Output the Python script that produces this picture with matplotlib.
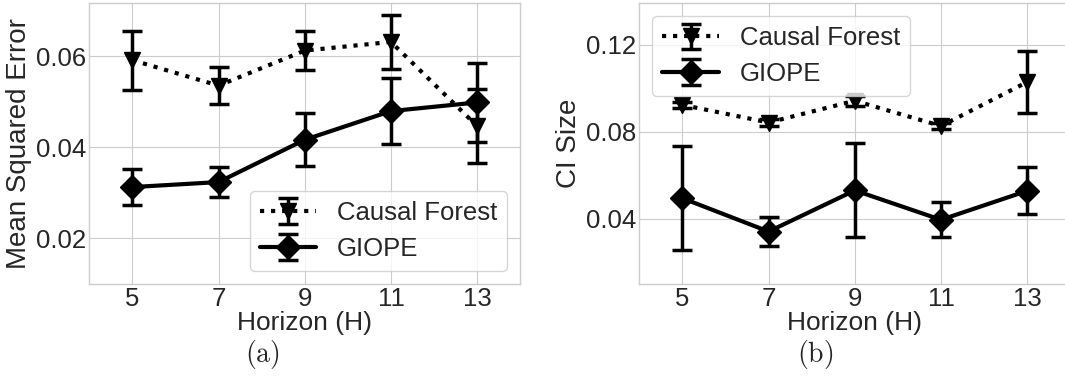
import matplotlib.pyplot as plt
import numpy as np

plt.style.use("seaborn-v0_8-whitegrid")
plt.rcParams["font.family"] = ["Liberation Sans", "DejaVu Sans"]
plt.rcParams["mathtext.fontset"] = "cm"

horizon = [5, 7, 9, 11, 13]

# mean squared error
mse_cf = [0.0592, 0.0536, 0.0613, 0.0632, 0.0447]
mse_cf_err = [0.0065, 0.0041, 0.0042, 0.0059, 0.0082]
mse_giope = [0.0313, 0.0324, 0.0417, 0.0480, 0.0499]
mse_giope_err = [0.0040, 0.0033, 0.0058, 0.0072, 0.0086]

# confidence interval size
ci_cf = [0.0923, 0.0842, 0.0942, 0.0826, 0.1028]
ci_cf_err = [0.0015, 0.0015, 0.0022, 0.0012, 0.0141]
ci_giope = [0.0494, 0.0341, 0.0530, 0.0395, 0.0528]
ci_giope_err = [0.0240, 0.0068, 0.0216, 0.0081, 0.0108]

fig = plt.figure(figsize=(10.65, 3.83), dpi=100)
ax1 = fig.add_axes([0.0838, 0.2585, 0.4047, 0.733])
ax2 = fig.add_axes([0.6003, 0.2585, 0.4047, 0.733])

style = dict(color="black", capsize=7.5, elinewidth=2.5, capthick=2.5,
             linewidth=3)

def draw(ax, cf, cf_err, gi, gi_err, ylabel, yticks, ylim, loc):
    ax.errorbar(horizon, cf, yerr=cf_err, fmt="v", linestyle=":", markersize=12,
                label="Causal Forest", **style)
    ax.errorbar(horizon, gi, yerr=gi_err, fmt="D", linestyle="-", markersize=12,
                label="GIOPE", **style)
    ax.set_xlim(4, 14)
    ax.set_ylim(*ylim)
    ax.set_xticks(horizon)
    ax.set_yticks(yticks)
    ax.tick_params(labelsize=18.5, colors="#262626", pad=2)
    ax.set_xlabel("Horizon (H)", fontsize=19, color="#262626", labelpad=0)
    ax.set_ylabel(ylabel, fontsize=20, color="#262626", labelpad=3)
    for s in ax.spines.values():
        s.set_visible(True)
        s.set_color("#cccccc")
    ax.legend(loc=loc, fontsize=18.5, frameon=True, handlelength=2.2,
              borderpad=0.4, labelspacing=0.45, handletextpad=0.8)

draw(ax1, mse_cf, mse_cf_err, mse_giope, mse_giope_err, "Mean Squared Error",
     [0.02, 0.04, 0.06], (0.010, 0.0717), "lower right")
ax1.set_yticklabels(["0.02", "0.04", "0.06"])
draw(ax2, ci_cf, ci_cf_err, ci_giope, ci_giope_err, "CI Size",
     [0.04, 0.08, 0.12], (0.010, 0.139), "upper left")
ax2.set_yticklabels(["0.04", "0.08", "0.12"])

fig.text(0.246, 0.074, r"$\mathrm{(a)}$", fontsize=20, ha="center", va="center")
fig.text(0.765, 0.074, r"$\mathrm{(b)}$", fontsize=20, ha="center", va="center")

fig.savefig("out.png", dpi=100)
